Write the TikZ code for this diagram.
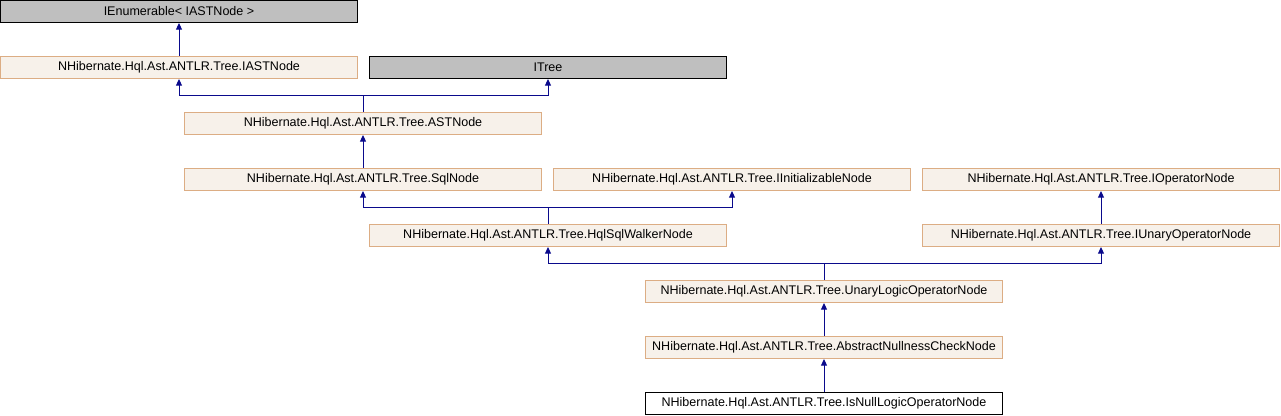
\documentclass[tikz,border=0pt]{standalone}
\usepackage{fontspec}
\setmainfont{Liberation Sans}
\usetikzlibrary{arrows.meta}

\definecolor{boxfill}{HTML}{F7F1EA}
\definecolor{boxline}{HTML}{DCAD84}
\definecolor{extfill}{HTML}{BFBFBF}
\definecolor{edgeblue}{HTML}{0A0A8C}

\tikzset{
  cls/.style={draw=boxline, fill=boxfill, line width=0.75pt,
    minimum width=267.75pt, minimum height=16.5pt, inner sep=0pt,
    font=\fontsize{9.4}{11}\selectfont},
  ext/.style={cls, draw=black, fill=extfill},
  cur/.style={cls, draw=black, fill=white},
  inh/.style={draw=edgeblue, line width=0.75pt,
    -{Triangle[length=5pt,width=4.5pt]}}
}

\begin{document}
\begin{tikzpicture}[x=0.75pt, y=-0.75pt]
        \useasboundingbox (0,0) rectangle (1281,416);

        \node[ext] (enumerable) at (179, 11.5) {IEnumerable< IASTNode >};
        \node[cls] (iastnode)   at (179, 67.5) {NHibernate.Hql.Ast.ANTLR.Tree.IASTNode};
        \node[ext] (itree)      at (548, 67.5) {ITree};
        \node[cls] (astnode)    at (363, 123.5) {NHibernate.Hql.Ast.ANTLR.Tree.ASTNode};

        \node[cls] (sqlnode)  at ( 363, 179.5) {NHibernate.Hql.Ast.ANTLR.Tree.SqlNode};
        \node[cls] (initnode) at ( 732, 179.5) {NHibernate.Hql.Ast.ANTLR.Tree.IInitializableNode};
        \node[cls] (opnode)   at (1101, 179.5) {NHibernate.Hql.Ast.ANTLR.Tree.IOperatorNode};

        \node[cls] (walker)  at ( 548, 235.5) {NHibernate.Hql.Ast.ANTLR.Tree.HqlSqlWalkerNode};
        \node[cls] (unaryop) at (1101, 235.5) {NHibernate.Hql.Ast.ANTLR.Tree.IUnaryOperatorNode};

        \node[cls] (unarylogic) at (824, 291.5) {NHibernate.Hql.Ast.ANTLR.Tree.UnaryLogicOperatorNode};
        \node[cls] (nullcheck)  at (824, 347.5) {NHibernate.Hql.Ast.ANTLR.Tree.AbstractNullnessCheckNode};
        \node[cur] (isnull)     at (824, 403.5) {NHibernate.Hql.Ast.ANTLR.Tree.IsNullLogicOperatorNode};

        \draw[inh] (iastnode) -- (enumerable);

        \draw[inh] (astnode.north) -- ++(0,-16.5) -| (iastnode.south);
        \draw[inh] (astnode.north) -- ++(0,-16.5) -| (itree.south);

        \draw[inh] (sqlnode) -- (astnode);

        \draw[inh] (walker.north) -- ++(0,-16.5) -| (sqlnode.south);
        \draw[inh] (walker.north) -- ++(0,-16.5) -| (initnode.south);

        \draw[inh] (unaryop) -- (opnode);

        \draw[inh] (unarylogic.north) -- ++(0,-16.5) -| (walker.south);
        \draw[inh] (unarylogic.north) -- ++(0,-16.5) -| (unaryop.south);

        \draw[inh] (nullcheck) -- (unarylogic);
        \draw[inh] (isnull) -- (nullcheck);
      \end{tikzpicture}
\end{document}
